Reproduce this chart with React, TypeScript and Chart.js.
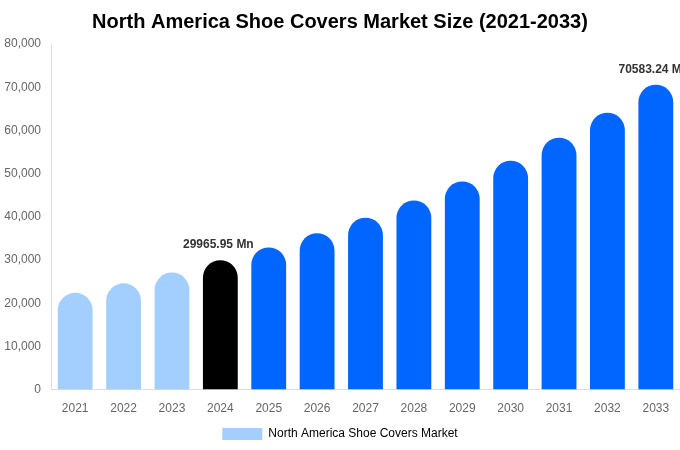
import React, { useEffect, useRef } from "react";
import { Chart, registerables } from "chart.js";

Chart.register(...registerables);

const years = ["2021", "2022", "2023", "2024", "2025", "2026", "2027", "2028", "2029", "2030", "2031", "2032", "2033"];
const marketSize = [22400, 24600, 27100, 29965.95, 32900, 36200, 39800, 43800, 48200, 53000, 58300, 64100, 70583.24];
const barColors = ["#a3cfff", "#a3cfff", "#a3cfff", "#000000", "#0066ff", "#0066ff", "#0066ff", "#0066ff", "#0066ff", "#0066ff", "#0066ff", "#0066ff", "#0066ff"];
const labelledIndexes = [3, 12];
const titleText = "North America Shoe Covers Market Size (2021-2033)";
const seriesName = "North America Shoe Covers Market";

const FONT = "'Liberation Sans', Arial, sans-serif";

const valueLabels = {
  id: "valueLabels",
  afterDatasetsDraw(chart: any) {
    const ctx = chart.ctx;
    const meta = chart.getDatasetMeta(0);
    ctx.save();
    ctx.font = "bold 12px " + FONT;
    ctx.fillStyle = "#333333";
    ctx.textAlign = "center";
    ctx.textBaseline = "bottom";
    labelledIndexes.forEach((i) => {
      const el = meta.data[i];
      ctx.fillText(marketSize[i].toFixed(2) + " Mn", el.x - 2, el.y - 9);
    });
    ctx.restore();
  },
};

export default function App() {
  const ref = useRef<HTMLCanvasElement | null>(null);
  useEffect(() => {
    if (!ref.current) return;
    const chart = new Chart(ref.current, {
      type: "bar",
      data: {
        labels: years,
        datasets: [
          {
            label: seriesName,
            data: marketSize,
            backgroundColor: barColors,
            borderRadius: 100,
            borderSkipped: "start",
          },
        ],
      },
      options: {
        animation: false,
        responsive: true,
        maintainAspectRatio: false,
        layout: { padding: { top: 0, right: 0, bottom: 0, left: 0 } },
        plugins: {
          title: {
            display: true,
            text: titleText,
            color: "#000000",
            font: { size: 20, weight: "bold", family: FONT },
            padding: { top: 10, bottom: 10 },
          },
          legend: {
            position: "bottom",
            labels: {
              color: "#666666",
              padding: 10,
              font: { size: 12, family: FONT },
              generateLabels: () => [
                { text: seriesName, fillStyle: "#a3cfff", strokeStyle: "#a3cfff", lineWidth: 0, hidden: false, datasetIndex: 0 } as any,
              ],
            },
          },
          tooltip: { enabled: false },
        },
        scales: {
          x: {
            grid: { display: false, drawTicks: false },
            border: { display: true, color: "#dddddd" },
            afterFit: (scale: any) => {
              scale.height -= 10;
              scale.paddingRight = 0;
              scale.paddingLeft = 0;
            },
            ticks: { color: "#666666", padding: 12, font: { size: 12, family: FONT } },
          },
          y: {
            min: 0,
            max: 80000,
            grid: { display: false, drawTicks: false },
            border: { display: true, color: "#dddddd" },
            afterFit: (scale: any) => {
              scale.width = 51;
            },
            ticks: {
              stepSize: 10000,
              color: "#666666",
              padding: 10,
              font: { size: 12, family: FONT },
            },
          },
        },
      },
      plugins: [valueLabels],
    });
    return () => chart.destroy();
  }, []);
  return (
    <div style={{ position: "absolute", left: 0, top: 0, width: 680, height: 450 }}>
      <canvas ref={ref} />
    </div>
  );
}
